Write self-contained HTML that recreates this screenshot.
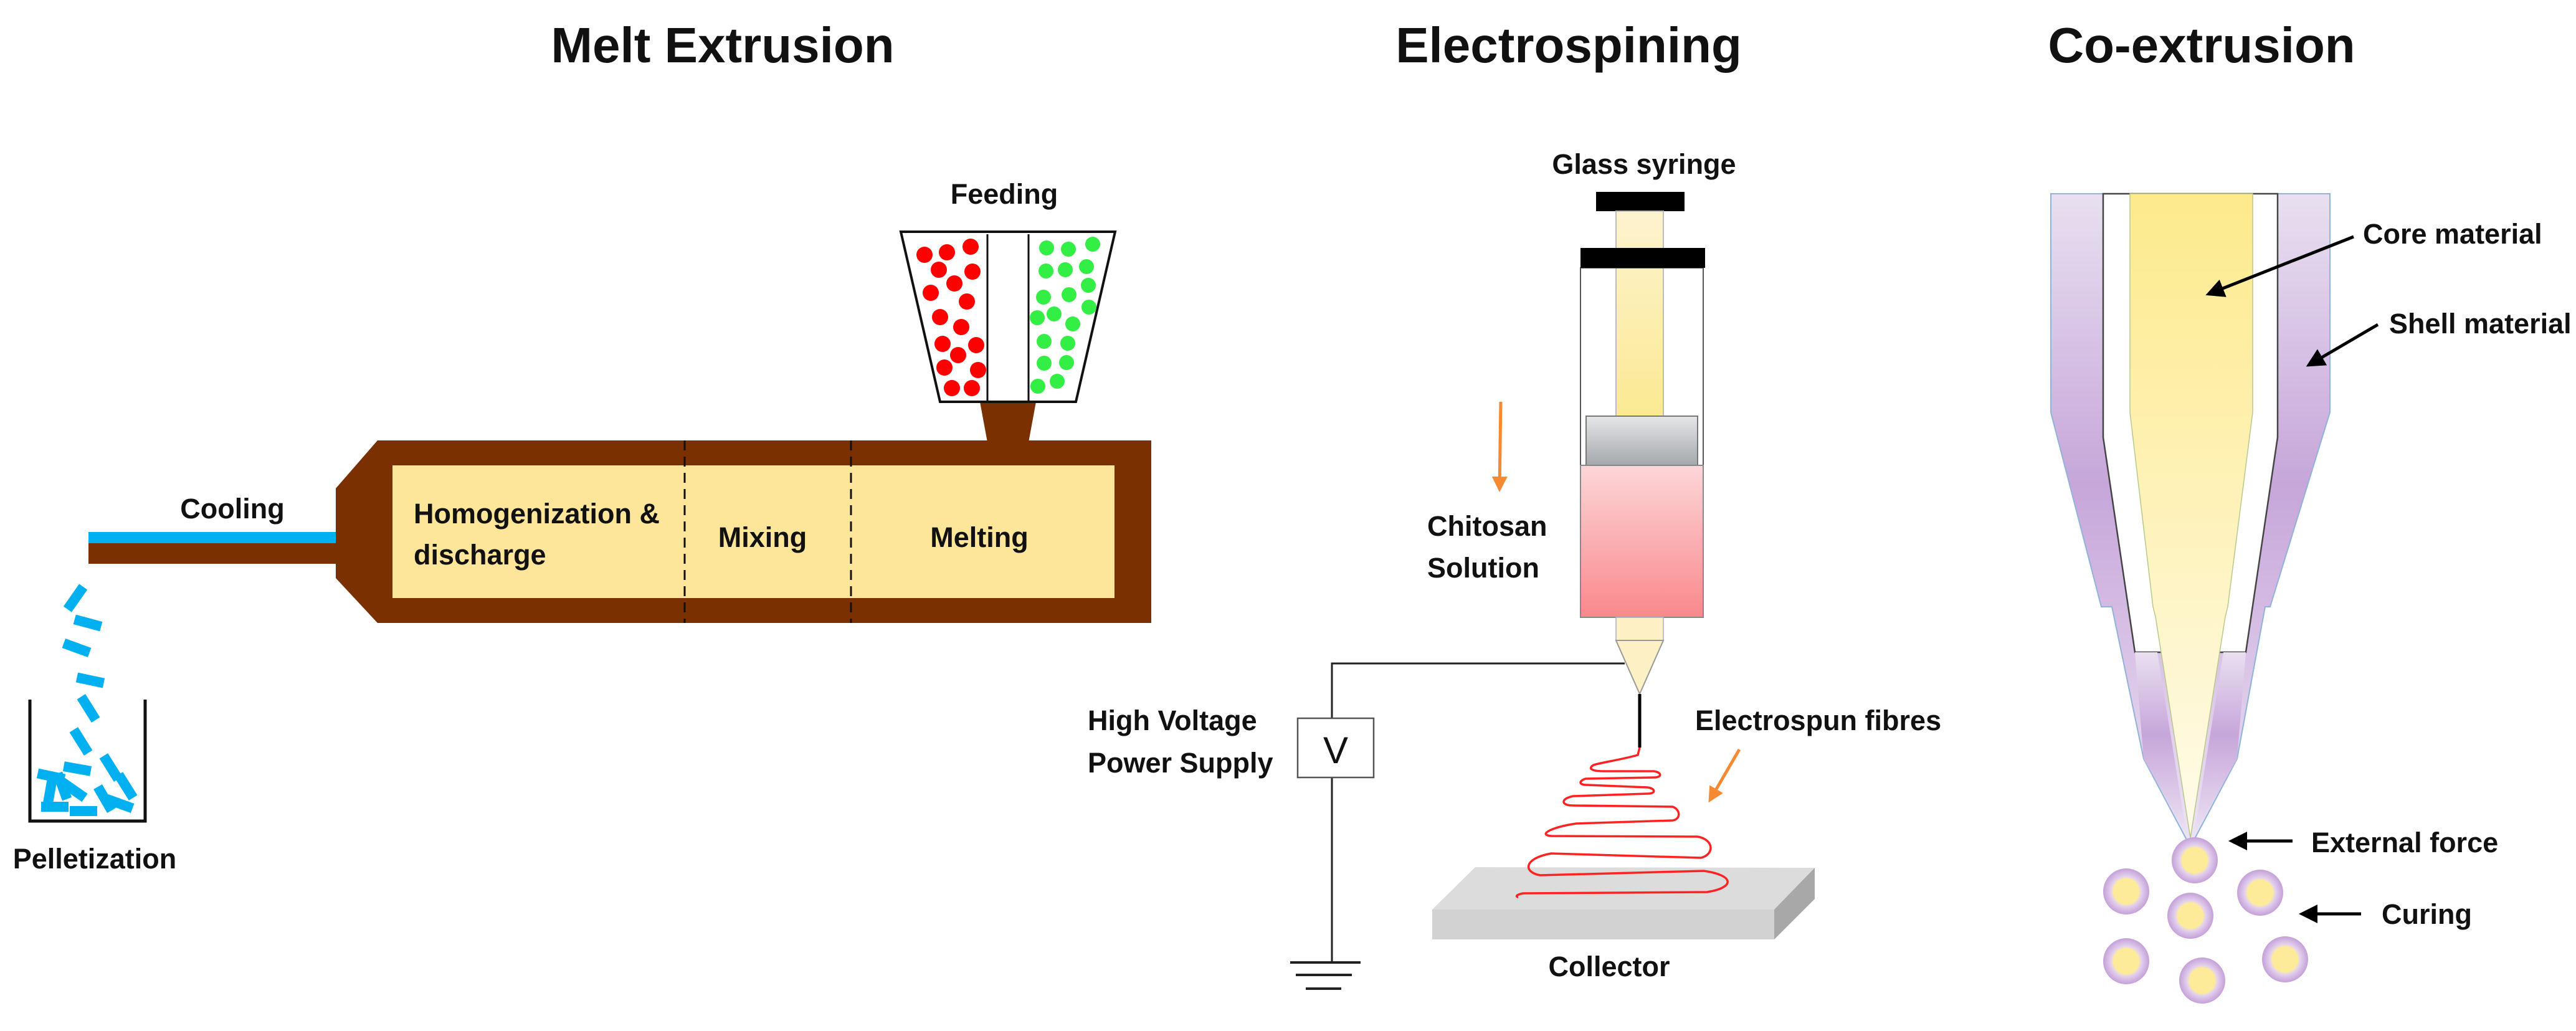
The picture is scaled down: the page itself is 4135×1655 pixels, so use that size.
<!DOCTYPE html>
<html><head><meta charset="utf-8"><style>
html,body{margin:0;padding:0;background:#fff;}
svg{display:block;}
text{font-family:"Liberation Sans",sans-serif;font-weight:bold;fill:#111;}
</style></head><body>
<svg width="4135" height="1655" viewBox="0 0 4135 1655" xmlns="http://www.w3.org/2000/svg">
<defs>
<linearGradient id="rod" x1="0" y1="0" x2="0" y2="1"><stop offset="0" stop-color="#fdf3cf"/><stop offset="1" stop-color="#fbe992"/></linearGradient>
<linearGradient id="pink" x1="0" y1="0" x2="0" y2="1"><stop offset="0" stop-color="#fcd6d8"/><stop offset="1" stop-color="#f9888c"/></linearGradient>
<linearGradient id="gray" x1="0" y1="0" x2="0" y2="1"><stop offset="0" stop-color="#e6e7e9"/><stop offset="1" stop-color="#a4a7ab"/></linearGradient>
<linearGradient id="shell" x1="0" y1="0" x2="0" y2="1"><stop offset="0" stop-color="#e8e0f0"/><stop offset="0.45" stop-color="#c7a6da"/><stop offset="1" stop-color="#ece2f3"/></linearGradient>
<linearGradient id="core" x1="0" y1="0" x2="0" y2="1"><stop offset="0" stop-color="#fdea8c"/><stop offset="1" stop-color="#fffbea"/></linearGradient>
<radialGradient id="drop"><stop offset="0.55" stop-color="#fdeb9a"/><stop offset="0.65" stop-color="#e4d2ee"/><stop offset="1" stop-color="#c4a0d8"/></radialGradient>
<marker id="ah" markerWidth="6" markerHeight="6" refX="5" refY="3" orient="auto" markerUnits="strokeWidth"><path d="M0,0 L6,3 L0,6 Z" fill="#000"/></marker>
<marker id="oh" markerWidth="5" markerHeight="5" refX="4" refY="2.5" orient="auto" markerUnits="strokeWidth"><path d="M0,0 L5,2.5 L0,5 Z" fill="#f58a32"/></marker>
</defs>

<!-- Titles -->
<text x="1160" y="100" font-size="80" text-anchor="middle">Melt Extrusion</text>
<text x="2518" y="100" font-size="80" text-anchor="middle">Electrospining</text>
<text x="3534" y="100" font-size="80" text-anchor="middle">Co-extrusion</text>

<!-- ===== Melt extrusion ===== -->
<polygon points="606,707 1848,707 1848,1000 606,1000 539,928 539,784" fill="#7a3000"/>
<rect x="630" y="747" width="1159" height="213" fill="#fde69a"/>
<line x1="1099" y1="707" x2="1099" y2="1000" stroke="#111" stroke-width="3" stroke-dasharray="16,10"/>
<line x1="1366" y1="707" x2="1366" y2="1000" stroke="#111" stroke-width="3" stroke-dasharray="16,10"/>
<rect x="142" y="854" width="397" height="18" fill="#00b0f0"/>
<rect x="142" y="872" width="397" height="33" fill="#7a3000"/>
<!-- hopper -->
<polygon points="1573,645 1663,645 1651,710 1585,710" fill="#7a3000"/>
<polygon points="1446,372 1790,372 1727,645 1509,645" fill="#fff" stroke="#111" stroke-width="4"/>
<line x1="1585" y1="376" x2="1585" y2="643" stroke="#111" stroke-width="3"/>
<line x1="1651" y1="376" x2="1651" y2="643" stroke="#111" stroke-width="3"/>
<g fill="#f00">
<circle cx="1484" cy="409" r="13"/><circle cx="1520" cy="405" r="13"/><circle cx="1558" cy="396" r="13"/>
<circle cx="1507" cy="433" r="13"/><circle cx="1561" cy="436" r="13"/><circle cx="1532" cy="455" r="13"/>
<circle cx="1494" cy="470" r="13"/><circle cx="1552" cy="484" r="13"/><circle cx="1509" cy="509" r="13"/>
<circle cx="1543" cy="525" r="13"/><circle cx="1513" cy="552" r="13"/><circle cx="1567" cy="554" r="13"/>
<circle cx="1538" cy="570" r="13"/><circle cx="1516" cy="590" r="13"/><circle cx="1570" cy="594" r="13"/>
<circle cx="1528" cy="623" r="13"/><circle cx="1560" cy="623" r="13"/>
</g>
<g fill="#33ee44">
<circle cx="1680" cy="398" r="12"/><circle cx="1715" cy="400" r="12"/><circle cx="1754" cy="392" r="12"/>
<circle cx="1679" cy="435" r="12"/><circle cx="1710" cy="433" r="12"/><circle cx="1744" cy="428" r="12"/>
<circle cx="1675" cy="477" r="12"/><circle cx="1716" cy="473" r="12"/><circle cx="1747" cy="458" r="12"/>
<circle cx="1665" cy="510" r="12"/><circle cx="1692" cy="504" r="12"/><circle cx="1722" cy="520" r="12"/><circle cx="1748" cy="493" r="12"/>
<circle cx="1676" cy="548" r="12"/><circle cx="1714" cy="551" r="12"/>
<circle cx="1676" cy="583" r="12"/><circle cx="1712" cy="582" r="12"/>
<circle cx="1666" cy="620" r="12"/><circle cx="1697" cy="612" r="12"/>
</g>
<text x="1612" y="327" font-size="45" text-anchor="middle">Feeding</text>
<text x="373" y="832" font-size="45" text-anchor="middle">Cooling</text>
<text x="664" y="840" font-size="45">Homogenization &amp;</text>
<text x="664" y="906" font-size="45">discharge</text>
<text x="1224" y="878" font-size="45" text-anchor="middle">Mixing</text>
<text x="1572" y="878" font-size="45" text-anchor="middle">Melting</text>
<!-- pellets -->
<polyline points="48,1123 48,1318 233,1318 233,1123" fill="none" stroke="#111" stroke-width="5"/>
<g fill="#00b0f0">
<rect x="-22" y="-8" width="44" height="16" transform="translate(121,960) rotate(-55)"/>
<rect x="-22" y="-8" width="44" height="16" transform="translate(141,1000) rotate(15)"/>
<rect x="-22" y="-8" width="44" height="16" transform="translate(123,1040) rotate(20)"/>
<rect x="-22" y="-8" width="44" height="16" transform="translate(145,1092) rotate(12)"/>
<rect x="-22" y="-8" width="44" height="16" transform="translate(142,1137) rotate(58)"/>
<rect x="-22" y="-8" width="44" height="16" transform="translate(130,1190) rotate(58)"/>
<rect x="-22" y="-8" width="44" height="16" transform="translate(124,1234) rotate(10)"/>
<rect x="-22" y="-8" width="44" height="16" transform="translate(178,1232) rotate(58)"/>
<rect x="-22" y="-8" width="44" height="16" transform="translate(202,1262) rotate(58)"/>
<rect x="-22" y="-8" width="44" height="16" transform="translate(82,1246) rotate(12)"/>
<rect x="-22" y="-8" width="44" height="16" transform="translate(80,1272) rotate(-80)"/>
<rect x="-22" y="-8" width="44" height="16" transform="translate(88,1295) rotate(0)"/>
<rect x="-22" y="-8" width="44" height="16" transform="translate(134,1302) rotate(0)"/>
<rect x="-22" y="-8" width="44" height="16" transform="translate(118,1268) rotate(35)"/>
<rect x="-22" y="-8" width="44" height="16" transform="translate(168,1282) rotate(60)"/>
<rect x="-22" y="-8" width="44" height="16" transform="translate(192,1290) rotate(20)"/>
<rect x="-22" y="-8" width="44" height="16" transform="translate(100,1262) rotate(70)"/>
</g>
<text x="152" y="1394" font-size="45" text-anchor="middle">Pelletization</text>

<!-- ===== Electrospinning ===== -->
<text x="2639" y="279" font-size="45" text-anchor="middle">Glass syringe</text>
<rect x="2562" y="308" width="142" height="31" fill="#000"/>
<rect x="2594" y="339" width="76" height="329" fill="url(#rod)" stroke="#bbb" stroke-width="2"/>
<rect x="2537" y="430" width="197" height="561" fill="none" stroke="#555" stroke-width="2"/>
<rect x="2537" y="398" width="200" height="32" fill="#000"/>
<rect x="2546" y="668" width="179" height="79" fill="url(#gray)" stroke="#777" stroke-width="2"/>
<rect x="2537" y="747" width="197" height="244" fill="url(#pink)" stroke="#888" stroke-width="2"/>
<rect x="2594" y="991" width="76" height="37" fill="#fdf0c4" stroke="#aac" stroke-width="1.5"/>
<polygon points="2594,1028 2670,1028 2632,1114" fill="#fdf0c4" stroke="#999" stroke-width="2"/>
<line x1="2632" y1="1114" x2="2632" y2="1200" stroke="#000" stroke-width="5"/>
<polyline points="2608,1065 2138,1065 2138,1545" fill="none" stroke="#222" stroke-width="3"/>
<rect x="2083" y="1153" width="122" height="95" fill="#fff" stroke="#555" stroke-width="2.5"/>
<text x="2144" y="1225" font-size="60" text-anchor="middle" style="font-weight:normal">V</text>
<line x1="2071" y1="1545" x2="2184" y2="1545" stroke="#222" stroke-width="4"/>
<line x1="2080" y1="1565" x2="2170" y2="1565" stroke="#222" stroke-width="4"/>
<line x1="2096" y1="1587" x2="2153" y2="1587" stroke="#222" stroke-width="4"/>
<line x1="2409" y1="645" x2="2407" y2="785" stroke="#f58a32" stroke-width="5" marker-end="url(#oh)"/>
<text x="2291" y="860" font-size="45">Chitosan</text>
<text x="2291" y="927" font-size="45">Solution</text>
<text x="1746" y="1172" font-size="45">High Voltage</text>
<text x="1746" y="1240" font-size="45">Power Supply</text>
<text x="2721" y="1172" font-size="45">Electrospun fibres</text>
<line x1="2792" y1="1203" x2="2745" y2="1284" stroke="#f58a32" stroke-width="5" marker-end="url(#oh)"/>
<!-- collector -->
<polygon points="2368,1392 2913,1393 2848,1460 2299,1460" fill="#dcdcdc"/>
<rect x="2299" y="1460" width="549" height="48" fill="#d2d2d2"/>
<polygon points="2848,1460 2913,1393 2913,1443 2848,1508" fill="#a8a8a8"/>
<text x="2583" y="1567" font-size="45" text-anchor="middle">Collector</text>
<path d="M2632,1200 L2629,1212 C2600,1220 2570,1224 2558,1228 C2548,1234 2556,1238 2575,1238 L2655,1238 C2668,1240 2668,1248 2655,1248 L2545,1250 C2534,1254 2534,1260 2548,1260 L2645,1264 C2658,1266 2658,1274 2645,1274 L2525,1278 C2505,1282 2505,1293 2525,1293 L2685,1295 C2698,1300 2698,1315 2685,1317 L2530,1322 C2490,1328 2468,1340 2490,1342 L2725,1343 C2752,1348 2752,1372 2730,1377 L2490,1370 C2445,1378 2445,1400 2472,1405 L2735,1398 C2785,1405 2785,1425 2740,1432 L2445,1434 C2430,1437 2435,1440 2437,1440" fill="none" stroke="#f22" stroke-width="3.5"/>

<!-- ===== Co-extrusion ===== -->
<polygon points="3292,311 3740,311 3740,662 3644,974 3636,974 3591,1218 3522,1348 3510,1348 3441,1218 3390,974 3373,974 3292,662" fill="url(#shell)" stroke="#8fb3d9" stroke-width="2"/>
<polygon points="3376,311 3656,311 3656,702 3605,1047 3570,1047 3565,1047 3465,1047 3427,1047 3376,702" fill="#fff" stroke="#444" stroke-width="2.5"/>
<polygon points="3419,311 3616,311 3616,662 3576,974 3572,990 3516,1345 3460,990 3456,974 3419,662" fill="url(#core)" stroke="#b7c98a" stroke-width="1.5"/>
<polygon points="3427,1047 3463,1047 3510,1340 3441,1218" fill="url(#shell)"/>
<polygon points="3605,1047 3569,1047 3522,1340 3591,1218" fill="url(#shell)"/>
<line x1="3778" y1="380" x2="3545" y2="472" stroke="#000" stroke-width="5" marker-end="url(#ah)"/>
<line x1="3817" y1="521" x2="3706" y2="586" stroke="#000" stroke-width="5" marker-end="url(#ah)"/>
<line x1="3680" y1="1350" x2="3582" y2="1350" stroke="#000" stroke-width="5" marker-end="url(#ah)"/>
<line x1="3790" y1="1467" x2="3695" y2="1467" stroke="#000" stroke-width="5" marker-end="url(#ah)"/>
<text x="3793" y="391" font-size="45">Core material</text>
<text x="3835" y="535" font-size="45">Shell material</text>
<text x="3710" y="1368" font-size="45">External force</text>
<text x="3823" y="1483" font-size="45">Curing</text>
<g fill="url(#drop)">
<circle cx="3523" cy="1381" r="37"/><circle cx="3413" cy="1431" r="37"/><circle cx="3628" cy="1433" r="37"/>
<circle cx="3516" cy="1470" r="37"/><circle cx="3413" cy="1543" r="37"/><circle cx="3668" cy="1540" r="37"/>
<circle cx="3535" cy="1574" r="37"/>
</g>
</svg>
</body></html>
